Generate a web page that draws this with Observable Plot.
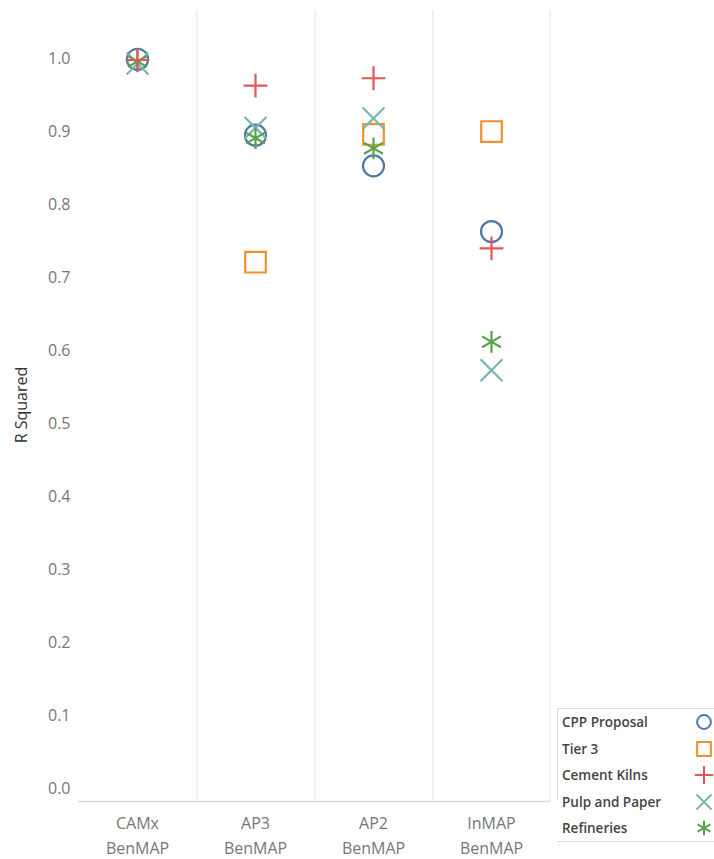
<!DOCTYPE html>
<html><head><meta charset="utf-8">
<script src="https://cdn.jsdelivr.net/npm/d3@7"></script>
<script src="https://cdn.jsdelivr.net/npm/@observablehq/plot@0.6"></script>
<style>
body{margin:0;background:#fff;font-family:"Open Sans",sans-serif;}
#wrap{position:relative;width:714px;height:859px;}
#ylab{position:absolute;left:21px;top:405px;transform:translate(-50%,-50%) rotate(-90deg);font-size:16px;color:#333;white-space:nowrap;}
#legend{position:absolute;left:557px;top:708px;width:157px;height:132px;border-top:1px solid #ddd;border-bottom:1px solid #ddd;}
#legline{position:absolute;left:557px;top:708px;width:1px;height:92px;background:#ddd;}
.row{position:absolute;left:5px;font-size:13.5px;font-weight:600;color:#444;transform:translateY(-50%);}
</style></head>
<body><div id="wrap"><div id="ylab">R Squared</div><div id="legline"></div><div id="legend"></div></div>
<script>
const models = ["CAMx", "AP3", "AP2", "InMAP"];
const modelLabels = ["CAMx\nBenMAP", "AP3\nBenMAP", "AP2\nBenMAP", "InMAP\nBenMAP"];
const seriesNames = ["CPP Proposal", "Tier 3", "Cement Kilns", "Pulp and Paper", "Refineries"];
const seriesColors = ["#4e79a7", "#f28e2b", "#e15759", "#76b7b2", "#59a14f"];
const seriesSymbols = ["circle", "square", "plus", "times", "asterisk"];
const cppProposal  = [0.999, 0.895, 0.853, 0.763];
const tier3        = [null, 0.721, 0.896, 0.900];
const cementKilns  = [0.998, 0.963, 0.973, 0.740];
const pulpAndPaper = [0.993, 0.905, 0.918, 0.573];
const refineries   = [0.996, 0.891, 0.877, 0.612];
const yTicks = [0, 0.1, 0.2, 0.3, 0.4, 0.5, 0.6, 0.7, 0.8, 0.9, 1.0];

const seriesValues = [cppProposal, tier3, cementKilns, pulpAndPaper, refineries];
const rs = [10.5, 11.6, 7.7, 10, 10.3];
const data = seriesNames.map((s, i) => models.map((m, j) => ({model: m, series: s, value: seriesValues[i][j]})).filter(d => d.value != null));
const drawOrder = [1, 0, 3, 4, 2];

const plot = Plot.plot({
  width: 714, height: 859,
  marginLeft: 78, marginRight: 164, marginTop: 10, marginBottom: 58,
  style: {fontFamily: "Open Sans, sans-serif", background: "#fff"},
  x: {type: "band", domain: models, padding: 0},
  y: {domain: [-0.0178, 1.0658]},
  marks: [
    Plot.ruleX(models.slice(1), {x: d => d, dx: -58.5, stroke: "#e3e3e3", strokeWidth: 1}),
    Plot.ruleX([models[3]], {x: d => d, dx: 58.5, stroke: "#e3e3e3", strokeWidth: 1}),
    Plot.ruleY([-0.0178], {stroke: "#d9d9d9", strokeWidth: 1.5}),
    Plot.axisY({ticks: yTicks, tickFormat: ".1f", tickSize: 0, tickPadding: 8, fontSize: 16, fill: "#777", label: null}),
    Plot.axisX({tickSize: 0, tickPadding: 9, fontSize: 16, fill: "#777", lineHeight: 1.6, label: null,
      tickFormat: d => modelLabels[models.indexOf(d)]}),
    ...drawOrder.map(i => Plot.dot(data[i], {
      x: "model", y: "value", symbol: () => seriesSymbols[i], r: rs[i],
      stroke: seriesColors[i], strokeWidth: 2.2, fill: "none"
    }))
  ]
});
document.getElementById("wrap").prepend(plot);
plot.style.position = "absolute"; plot.style.left = "0"; plot.style.top = "0";

const leg = document.getElementById("legend");
seriesNames.forEach((s, i) => {
  const y = 13 + i * 26.5;
  const t = document.createElement("div");
  t.className = "row"; t.style.top = y + "px"; t.textContent = s;
  leg.appendChild(t);
  const svg = d3.create("svg").attr("width", 24).attr("height", 24)
    .style("position", "absolute").style("left", (147 - 12) + "px").style("top", (y - 12) + "px");
  const symMap = {circle: d3.symbolCircle, square: d3.symbolSquare, plus: d3.symbolPlus, times: d3.symbolTimes, asterisk: d3.symbolAsterisk};
  const sizes = [150, 190, 110, 150, 150];
  svg.append("path").attr("transform", "translate(12,12)")
    .attr("d", d3.symbol(symMap[seriesSymbols[i]], sizes[i])())
    .attr("fill", "none").attr("stroke", seriesColors[i]).attr("stroke-width", 2);
  leg.appendChild(svg.node());
});
</script></body></html>
